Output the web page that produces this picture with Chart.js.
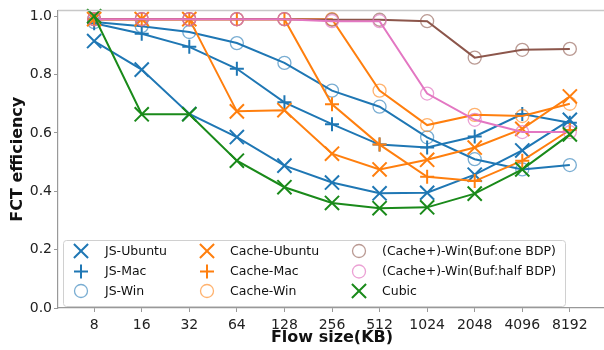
<!DOCTYPE html>
<html>
<head>
<meta charset="utf-8">
<script src="https://cdn.jsdelivr.net/npm/chart.js@4.4.1/dist/chart.umd.min.js"></script>
<style>
html, body { margin: 0; padding: 0; background: #fff; overflow: hidden; }
#wrap { width: 610px; height: 350px; }
</style>
</head>
<body>
<div id="wrap"><canvas id="fctChart" width="610" height="350"></canvas></div>
<script>
// data
const flowSizes = ['8', '16', '32', '64', '128', '256', '512', '1024', '2048', '4096', '8192'];
const yTicks = [0, 0.2, 0.4, 0.6, 0.8, 1.0];

const jsUbuntu    = [0.915, 0.817, 0.665, 0.586, 0.488, 0.430, 0.393, 0.395, 0.457, 0.540, 0.645];
const jsMac       = [0.976, 0.940, 0.895, 0.820, 0.705, 0.630, 0.560, 0.550, 0.588, 0.665, 0.635];
const jsWin       = [0.980, 0.966, 0.946, 0.908, 0.840, 0.745, 0.690, 0.585, 0.510, 0.475, 0.490];
const cacheUbuntu = [0.990, 0.990, 0.990, 0.674, 0.678, 0.529, 0.475, 0.508, 0.550, 0.614, 0.725];
const cacheMac    = [0.990, 0.990, 0.990, 0.990, 0.990, 0.698, 0.560, 0.450, 0.435, 0.505, 0.610];
const cacheWin    = [0.990, 0.990, 0.990, 0.990, 0.990, 0.990, 0.745, 0.627, 0.662, 0.658, 0.700];
const bufOneBdp   = [0.990, 0.990, 0.990, 0.990, 0.990, 0.988, 0.988, 0.983, 0.858, 0.885, 0.888];
const bufHalfBdp  = [0.990, 0.990, 0.990, 0.990, 0.990, 0.983, 0.983, 0.735, 0.645, 0.603, 0.603];
const cubic       = [1.000, 0.664, 0.664, 0.505, 0.414, 0.360, 0.342, 0.345, 0.392, 0.475, 0.595];

const BLUE = '#1f77b4', ORANGE = '#ff7f0e', BROWN = '#8c564b', PINK = '#e377c2', GREEN = '#1a8a1a';
const FONT = 'DejaVu Sans';

const series = [
    { label: 'JS-Ubuntu', values: jsUbuntu, color: BLUE, marker: 'crossRot' },
    { label: 'JS-Mac', values: jsMac, color: BLUE, marker: 'cross' },
    { label: 'JS-Win', values: jsWin, color: BLUE, marker: 'circle', mcolor: 'rgba(31,119,180,0.6)' },
    { label: 'Cache-Ubuntu', values: cacheUbuntu, color: ORANGE, marker: 'crossRot' },
    { label: 'Cache-Mac', values: cacheMac, color: ORANGE, marker: 'cross' },
    { label: 'Cache-Win', values: cacheWin, color: ORANGE, marker: 'circle', mcolor: 'rgba(255,127,14,0.6)' },
    { label: '(Cache+)-Win(Buf:one BDP)', values: bufOneBdp, color: BROWN, marker: 'circle', mcolor: 'rgba(140,86,75,0.6)' },
    { label: '(Cache+)-Win(Buf:half BDP)', values: bufHalfBdp, color: PINK, marker: 'circle', mcolor: 'rgba(227,119,194,0.7)' },
    { label: 'Cubic', values: cubic, color: GREEN, marker: 'crossRot' },
];

const markerRadius = { crossRot: 10, cross: 7, circle: 6.5 };

function drawMarker(ctx, style, x, y, color) {
    const r = markerRadius[style];
    ctx.save();
    ctx.strokeStyle = color;
    ctx.lineWidth = style === 'circle' ? 1.3 : 2;
    ctx.beginPath();
    if (style === 'crossRot') {
        const d = r * Math.SQRT1_2;
        ctx.moveTo(x - d, y - d); ctx.lineTo(x + d, y + d);
        ctx.moveTo(x + d, y - d); ctx.lineTo(x - d, y + d);
    } else if (style === 'cross') {
        ctx.moveTo(x - r, y); ctx.lineTo(x + r, y);
        ctx.moveTo(x, y - r); ctx.lineTo(x, y + r);
    } else {
        ctx.arc(x, y, r, 0, Math.PI * 2);
    }
    ctx.stroke();
    ctx.restore();
}

// legend inside the plot, column-major like matplotlib's ncol=3
const legendBox = {
    id: 'legendBox',
    afterDatasetsDraw(chart) {
        const ctx = chart.ctx;
        const box = { x: 63.5, y: 240.5, w: 502, h: 66 };
        ctx.save();
        ctx.fillStyle = 'rgba(255,255,255,0.85)';
        ctx.strokeStyle = '#d0d0d0';
        ctx.lineWidth = 1;
        ctx.beginPath();
        ctx.roundRect(box.x, box.y, box.w, box.h, 3);
        ctx.fill(); ctx.stroke();
        const colX = [81, 207, 359], textX = [105, 230, 382], rowY = [251, 271.5, 291];
        ctx.font = '12.5px "' + FONT + '"';
        ctx.fillStyle = '#111';
        ctx.textBaseline = 'middle';
        series.forEach((s, i) => {
            const c = Math.floor(i / 3), r = i % 3;
            drawMarker(ctx, s.marker, colX[c], rowY[r], s.mcolor || s.color);
            ctx.fillText(s.label, textX[c], rowY[r] + 0.5);
        });
        ctx.restore();
    }
};

// markers drawn by hand so X / + / o look like matplotlib's
const markers = {
    id: 'markers',
    afterDatasetDraw(chart, args) {
        const s = series[args.index];
        args.meta.data.forEach(p => drawMarker(chart.ctx, s.marker, p.x, p.y, s.mcolor || s.color));
    },
    afterDraw(chart) {
        const { ctx, chartArea } = chart;
        ctx.save();
        ctx.strokeStyle = '#c8c8c8';
        ctx.lineWidth = 1.5;
        ctx.beginPath();
        ctx.moveTo(chartArea.left, chartArea.top);
        ctx.lineTo(chartArea.right, chartArea.top);
        ctx.stroke();
        ctx.restore();
    }
};

const datasets = series.map((s, i) => ({
    label: s.label,
    data: s.values.map((v, k) => ({ x: k, y: v })),
    borderColor: s.color,
    borderWidth: 2,
    pointRadius: 0,
    pointHoverRadius: 0,
    tension: 0,
    order: series.length - i,
}));

new Chart(document.getElementById('fctChart'), {
    type: 'line',
    data: { datasets },
    plugins: [markers, legendBox],
    options: {
        responsive: false,
        animation: false,
        events: [],
        layout: { padding: { top: 7, right: 4, left: 0, bottom: 0 } },
        plugins: { legend: { display: false }, tooltip: { enabled: false } },
        scales: {
            x: {
                type: 'linear',
                min: -0.76, max: 10.76,
                afterBuildTicks: sc => { sc.ticks = flowSizes.map((_, i) => ({ value: i })); },
                afterFit: sc => { sc.height = 42; },
                ticks: { callback: v => flowSizes[v], color: '#222', padding: 5, maxRotation: 0, autoSkip: false, font: { family: FONT, size: 14 } },
                grid: { drawOnChartArea: false, drawTicks: true, tickLength: 4, color: '#999' },
                border: { color: '#999', width: 1.2 },
                title: { display: true, text: 'Flow size(KB)', color: '#111', padding: { top: 0, bottom: 3 }, font: { family: FONT, size: 16, weight: 'bold' } },
            },
            y: {
                min: 0, max: 1.02,
                afterBuildTicks: sc => { sc.ticks = yTicks.map(v => ({ value: v })); },
                afterFit: sc => { sc.width = 58; },
                ticks: { callback: v => v.toFixed(1), color: '#222', padding: 2, font: { family: FONT, size: 14 } },
                grid: { drawOnChartArea: false, drawTicks: true, tickLength: 4, color: '#999' },
                border: { color: '#999', width: 1.2 },
                title: { display: true, text: 'FCT efficiency', color: '#111', padding: { top: 8, bottom: 0 }, font: { family: FONT, size: 16, weight: 'bold' } },
            }
        }
    }
});
</script>
</body>
</html>
